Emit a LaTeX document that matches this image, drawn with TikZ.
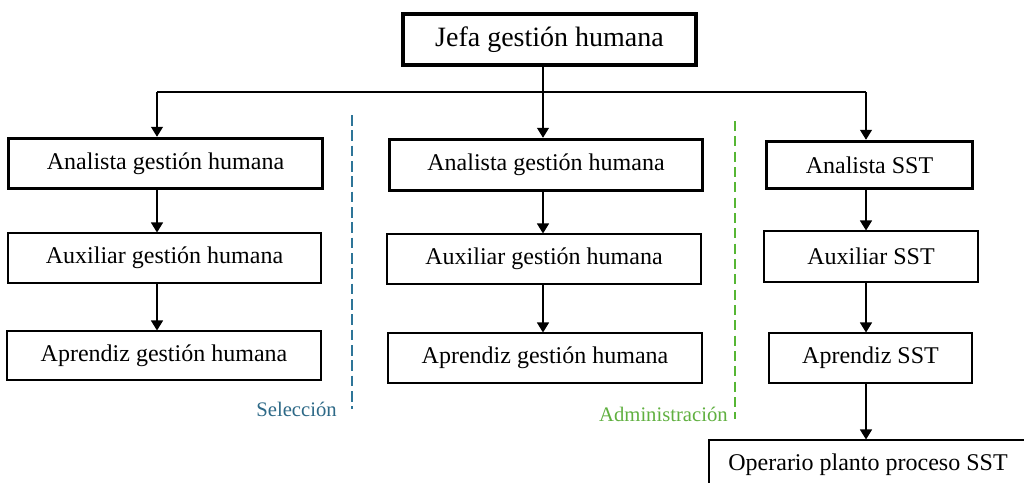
\documentclass[tikz,border=0pt]{standalone}
\usepackage{fontspec}
\setmainfont{Liberation Serif}
\usetikzlibrary{arrows.meta}
\definecolor{selline}{RGB}{46,117,152}
\definecolor{seltext}{RGB}{45,105,135}
\definecolor{admline}{RGB}{86,182,52}
\definecolor{admtext}{RGB}{96,176,64}
\tikzset{
  box/.style={draw=black, line width=0.8pt, inner sep=0pt, align=center, fill=white,
    font=\fontsize{18}{20}\selectfont},
  thickbox/.style={box, line width=2.6pt},
  link/.style={draw=black, line width=0.9pt},
  arr/.style={link, -{Triangle[width=9pt,length=7.5pt]}},
  seldash/.style={draw=selline, line width=1pt, dash pattern=on 8pt off 3.5pt},
  admdash/.style={draw=admline, line width=1pt, dash pattern=on 7.5pt off 4pt},
  lbl/.style={inner sep=0pt, anchor=east, font=\fontsize{15.5}{17}\selectfont}
}
\begin{document}
\begin{tikzpicture}[x=0.75pt, y=-0.75pt]
\clip (0,0) rectangle (1024,482);
\fill[white] (0,0) rectangle (1024,482);

% top
\node[thickbox, minimum width=219.75pt, minimum height=38.25pt,
      font=\fontsize{21}{24}\selectfont] (jefa) at (549.5,39.5) {Jefa gestión humana};

% left column
\node[thickbox, minimum width=235.5pt, minimum height=37.5pt] (a1) at (165.5,163.5) {Analista gestión humana};
\node[box, minimum width=234.75pt, minimum height=37.5pt] (b1) at (164.5,258) {Auxiliar gestión humana};
\node[box, minimum width=235.5pt, minimum height=36.75pt] (c1) at (164,355.5) {Aprendiz gestión humana};

% middle column
\node[thickbox, minimum width=234.75pt, minimum height=38.25pt] (a2) at (546,165) {Analista gestión humana};
\node[box, minimum width=235.5pt, minimum height=37.5pt] (b2) at (544,259) {Auxiliar gestión humana};
\node[box, minimum width=235.5pt, minimum height=37.5pt] (c2) at (545,358) {Aprendiz gestión humana};

% right column
\node[thickbox, minimum width=154.5pt, minimum height=35.25pt] (a3) at (869.5,165) {Analista SST};
\node[box, minimum width=160.5pt, minimum height=38.25pt] (b3) at (871,256.5) {Auxiliar SST};
\node[box, minimum width=152.25pt, minimum height=37.5pt] (c3) at (870.5,358) {Aprendiz SST};
\node[box, minimum width=238.5pt, minimum height=37.5pt] (d3) at (868,465) {Operario planto proceso SST};

% helper coordinates
\coordinate (hl) at (157,92);
\coordinate (hr) at (866,92);
\coordinate (cm) at (543,0);

% top connectors
\draw[link] (hl) -- (hr);
\draw[arr] (jefa.south -| cm) -- (a2.north -| cm);
\draw[arr] (hl) -- (a1.north -| hl);
\draw[arr] (hr) -- (a3.north -| hr);

% column connectors
\draw[arr] (a1.south -| hl) -- (b1.north -| hl);
\draw[arr] (b1.south -| hl) -- (c1.north -| hl);
\draw[arr] (a2.south -| cm) -- (b2.north -| cm);
\draw[arr] (b2.south -| cm) -- (c2.north -| cm);
\draw[arr] (a3.south -| hr) -- (b3.north -| hr);
\draw[arr] (b3.south -| hr) -- (c3.north -| hr);
\draw[arr] (c3.south -| hr) -- (d3.north -| hr);

% dashed separators
\coordinate (s1) at (352,115);
\coordinate (s2) at (352,409);
\coordinate (g1) at (735,121);
\coordinate (g2) at (735,419);
\draw[seldash] (s1) -- (s2);
\draw[admdash] (g1) -- (g2);

% labels
\node[lbl, text=seltext] (sel) at (337,409) {Selección};
\node[lbl, text=admtext] (adm) at (728,414) {Administración};
\end{tikzpicture}
\end{document}
